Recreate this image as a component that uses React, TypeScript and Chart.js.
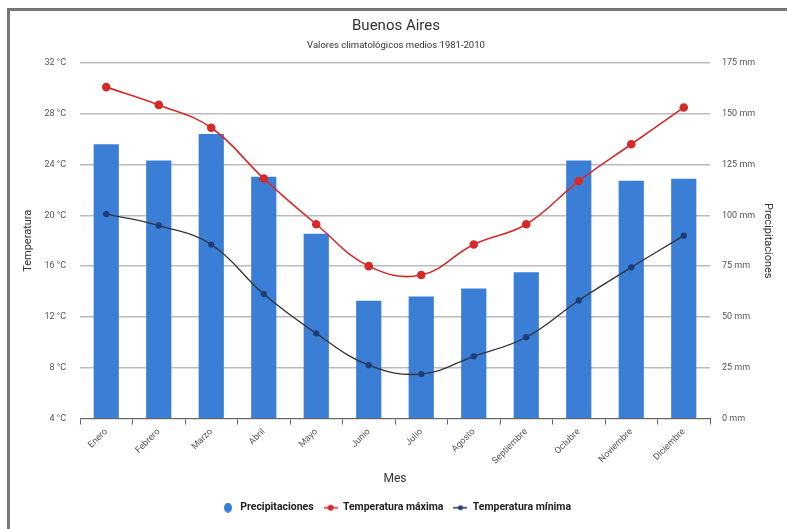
import React, { useEffect, useRef } from "react";
import { Chart, registerables } from "chart.js";

Chart.register(...registerables);

const months = ["Enero", "Febrero", "Marzo", "Abril", "Mayo", "Junio", "Julio", "Agosto", "Septiembre", "Octubre", "Noviembre", "Diciembre"];
const precipitaciones = [135, 127, 140, 119, 91, 58, 60, 64, 72, 127, 117, 118];
const tempMax = [30.1, 28.7, 26.9, 22.9, 19.3, 16.0, 15.3, 17.7, 19.3, 22.7, 25.6, 28.5];
const tempMin = [20.1, 19.2, 17.7, 13.8, 10.7, 8.2, 7.5, 8.9, 10.4, 13.3, 15.9, 18.4];

const BLUE = "#3a7fd5";
const RED = "#d62a2a";
const DARK = "#333333";
const NAVY = "#1f3c7a";

function makeIcon(kind: string): HTMLCanvasElement {
  const c = document.createElement("canvas");
  c.width = 14;
  c.height = 10;
  const ctx = c.getContext("2d")!;
  if (kind === "bar") {
    ctx.fillStyle = BLUE;
    ctx.beginPath();
    ctx.ellipse(7, 5, 4, 5, 0, 0, Math.PI * 2);
    ctx.fill();
  } else {
    const line = kind === "max" ? RED : DARK;
    const dot = kind === "max" ? RED : NAVY;
    ctx.strokeStyle = line;
    ctx.lineWidth = 1.5;
    ctx.beginPath();
    ctx.moveTo(0, 5);
    ctx.lineTo(14, 5);
    ctx.stroke();
    ctx.fillStyle = dot;
    ctx.beginPath();
    ctx.arc(7, 5, kind === "max" ? 3 : 2.5, 0, Math.PI * 2);
    ctx.fill();
  }
  return c;
}

export default function App() {
  const ref = useRef<HTMLCanvasElement>(null);
  useEffect(() => {
    if (!ref.current) return;
    Chart.defaults.font.family = "Roboto";
    const icons = [makeIcon("bar"), makeIcon("max"), makeIcon("min")];
    const chart = new Chart(ref.current, {
      type: "bar",
      data: {
        labels: months,
        datasets: [
          {
            type: "bar",
            label: "Precipitaciones",
            data: precipitaciones,
            backgroundColor: BLUE,
            yAxisID: "y1",
            categoryPercentage: 1,
            barPercentage: 0.48,
            order: 3,
          },
          {
            type: "line",
            label: "Temperatura máxima",
            data: tempMax,
            borderColor: RED,
            backgroundColor: RED,
            pointBackgroundColor: RED,
            pointBorderColor: RED,
            pointRadius: 3.5,
            borderWidth: 1.6,
            tension: 0.4,
            yAxisID: "y",
            order: 1,
          },
          {
            type: "line",
            label: "Temperatura mínima",
            data: tempMin,
            borderColor: DARK,
            backgroundColor: NAVY,
            pointBackgroundColor: NAVY,
            pointBorderColor: NAVY,
            pointRadius: 2.5,
            borderWidth: 1.3,
            tension: 0.4,
            yAxisID: "y",
            order: 2,
          },
        ],
      },
      options: {
        animation: false,
        responsive: false,
        layout: { padding: { left: 10, right: 5, top: 6, bottom: 6 } },
        plugins: {
          title: {
            display: true,
            text: "Buenos Aires",
            color: "#333",
            font: { size: 15, weight: "normal" },
            padding: { top: 11, bottom: 2 },
          },
          subtitle: {
            display: true,
            text: "Valores climatológicos medios 1981-2010",
            color: "#333",
            font: { size: 9.5 },
            padding: { top: 3.3, bottom: 11.3 },
          },
          legend: {
            position: "bottom",
            labels: {
              usePointStyle: true,
              pointStyleWidth: 14,
              color: "#222",
              font: { size: 10.5, weight: "bold" },
              padding: 10,
              sort: (a: any, b: any) => a.datasetIndex - b.datasetIndex,
              generateLabels: (c: any) => {
                const items = (Chart.defaults.plugins.legend.labels as any).generateLabels(c);
                items.forEach((it: any) => {
                  it.pointStyle = icons[it.datasetIndex];
                });
                return items;
              },
            },
          },
          tooltip: { enabled: false },
        },
        scales: {
          x: {
            afterFit: (s: any) => {
              s.height = 74;
            },
            grid: {
              display: true,
              drawOnChartArea: false,
              drawTicks: true,
              tickLength: 6,
              color: "#666",
              offset: true,
            },
            border: { display: true, color: "#666", width: 1 },
            ticks: {
              minRotation: 45,
              maxRotation: 45,
              color: "#555",
              font: { size: 9 },
              padding: 2,
              autoSkip: false,
            },
            title: {
              display: true,
              text: "Mes",
              color: "#333",
              font: { size: 12 },
              padding: { top: 0, bottom: 6.8 },
            },
          },
          y: {
            position: "left",
            min: 4,
            max: 32,
            afterFit: (s: any) => {
              s.width = 70;
            },
            grid: { color: "#bbb", lineWidth: 1.5, drawTicks: false },
            border: { display: false },
            ticks: {
              stepSize: 4,
              padding: 14,
              color: "#555",
              font: { size: 9 },
              callback: (v: any) => v + " °C",
            },
            title: {
              display: true,
              text: "Temperatura",
              color: "#333",
              font: { size: 11 },
              padding: { top: 11.4, bottom: 0 },
            },
          },
          y1: {
            position: "right",
            min: 0,
            max: 175,
            afterFit: (s: any) => {
              s.width = 72;
            },
            grid: { drawOnChartArea: false, drawTicks: false },
            border: { display: false },
            ticks: {
              stepSize: 25,
              padding: 12,
              color: "#555",
              font: { size: 9 },
              callback: (v: any) => v + " mm",
            },
            title: {
              display: true,
              text: "Precipitaciones",
              color: "#333",
              font: { size: 11 },
              padding: { top: 7.4, bottom: 0 },
            },
          },
        },
      } as any,
    });
    return () => chart.destroy();
  }, []);

  return (
    <div style={{ position: "fixed", left: 0, top: 0, width: 787, height: 529, background: "#fff" }}>
      <canvas ref={ref} width={787} height={529} style={{ position: "absolute", left: 0, top: 0 }} />
      <div style={{ position: "absolute", left: 7, top: 8, width: 3, height: 521, background: "#777" }} />
      <div style={{ position: "absolute", left: 7, top: 8, width: 780, height: 3, background: "#777" }} />
    </div>
  );
}
